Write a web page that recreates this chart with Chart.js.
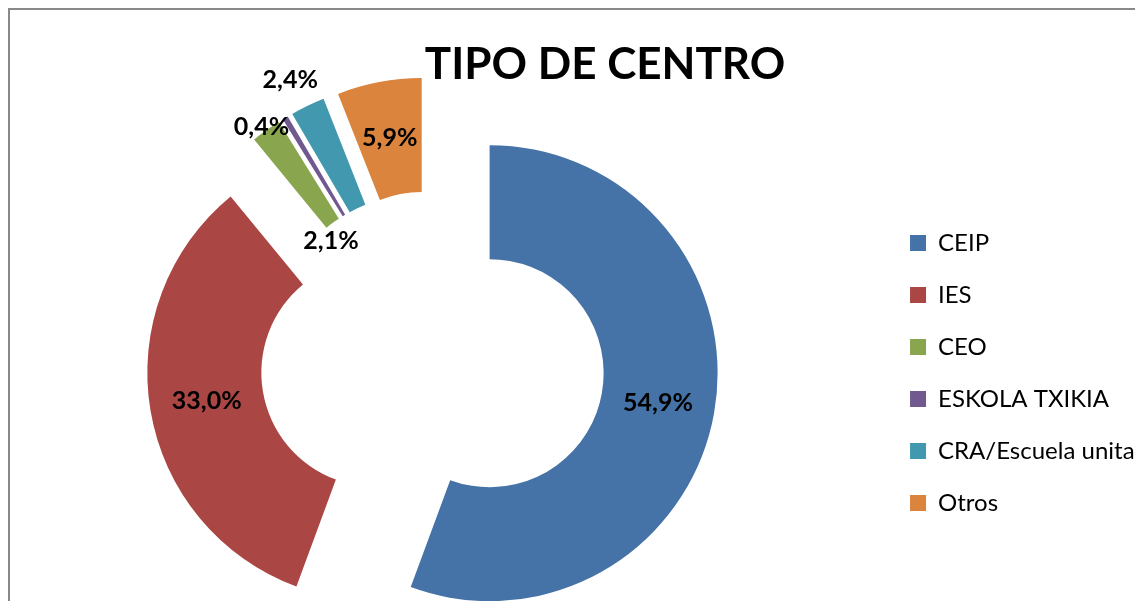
<!DOCTYPE html>
<html>
<head>
<meta charset="utf-8">
<script src="https://cdn.jsdelivr.net/npm/chart.js@4.4.1/dist/chart.umd.min.js"></script>
<style>
  html, body { margin: 0; padding: 0; background: #fff; overflow: hidden; }
  body { width: 1135px; height: 601px; position: relative; }
  .frame { position: absolute; left: 8px; top: 8px; width: 1300px; height: 700px;
           border-left: 2px solid #898989; border-top: 2px solid #898989; }
  .title { position: absolute; left: 0; top: 36px; width: 1210px; text-align: center;
           font: bold 44px/1.2 Lato, sans-serif; color: #000; }
  .wrap { position: absolute; left: -20px; top: 0; width: 1191px; height: 601px; }
</style>
</head>
<body>
<div class="frame"></div>
<div class="wrap"><canvas id="chart"></canvas></div>
<div class="title">TIPO DE CENTRO</div>
<script>
const labels = ['CEIP', 'IES', 'CEO', 'ESKOLA TXIKIA', 'CRA/Escuela unitaria', 'Otros'];
const values = [54.9, 33.0, 2.1, 0.4, 2.4, 5.9];
const colors = ['#4572A7', '#AA4643', '#89A54E', '#71588F', '#4198AF', '#DB843D'];

const fmt = v => v.toFixed(1).replace('.', ',') + '%';

// pull every slice out from the centre along its middle angle
const explode = {
    id: 'explode',
    afterUpdate(chart, args, opts) {
        chart.getDatasetMeta(0).data.forEach(arc => {
            const mid = (arc.startAngle + arc.endAngle) / 2;
            arc.x += Math.cos(mid) * opts.distance;
            arc.y += Math.sin(mid) * opts.distance;
        });
    }
};

// percentage labels, r = fraction of outer radius, da = degrees moved off the middle
const sliceLabels = {
    id: 'sliceLabels',
    afterDatasetsDraw(chart, args, opts) {
        const ctx = chart.ctx;
        const data = chart.data.datasets[0].data;
        ctx.save();
        ctx.font = opts.font;
        ctx.fillStyle = opts.color;
        ctx.textAlign = 'center';
        ctx.textBaseline = 'middle';
        chart.getDatasetMeta(0).data.forEach((arc, i) => {
            const p = opts.place[i] || {};
            const r = arc.outerRadius * (p.r || 0.75);
            const a = (arc.startAngle + arc.endAngle) / 2 + (p.da || 0) * Math.PI / 180;
            ctx.fillText(fmt(data[i]), arc.x + Math.cos(a) * r, arc.y + Math.sin(a) * r);
        });
        ctx.restore();
    }
};

const config = {
    type: 'doughnut',
    data: {
        labels: labels,
        datasets: [{
            data: values,
            backgroundColor: colors,
            borderWidth: 0,
            clip: false
        }]
    },
    options: {
        responsive: true,
        maintainAspectRatio: false,
        animation: false,
        events: [],
        radius: 228,
        cutout: '50%',
        layout: {
            padding: { top: 125, bottom: 0, left: 3, right: 0 }
        },
        plugins: {
            title: { display: false },
            tooltip: { enabled: false },
            legend: {
                position: 'right',
                align: 'center',
                title: { display: true, text: '', padding: 0, font: { size: 20, lineHeight: 1 } },
                labels: {
                    boxWidth: 16,
                    boxHeight: 16,
                    padding: 28,
                    color: '#000',
                    font: { family: 'Lato', size: 24 }
                }
            },
            explode: { distance: 58 },
            sliceLabels: {
                font: 'bold 25px Lato',
                color: '#000',
                place: [
                    {},
                    {},
                    { r: 0.443, da: -6.6 },
                    { r: 1.026, da: -6.1 },
                    { r: 1.134, da: -1 },
                    {}
                ]
            }
        }
    },
    plugins: [explode, sliceLabels]
};

const chart = document.getElementById('chart');
const myChart = new Chart(chart, config);
</script>
</body>
</html>
